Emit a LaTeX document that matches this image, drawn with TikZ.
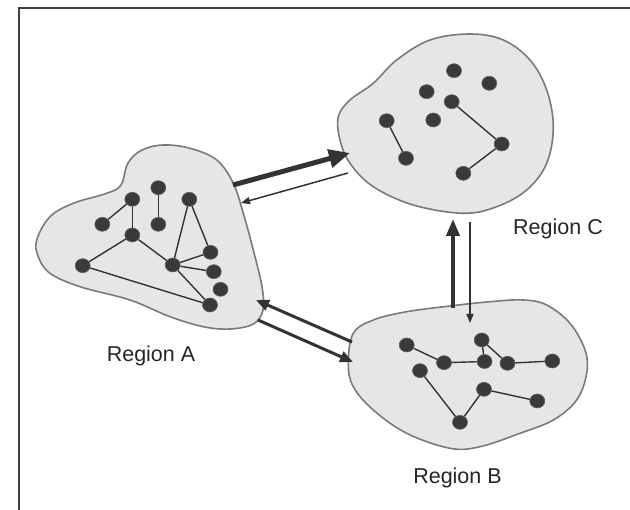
\documentclass[tikz,border=0pt]{standalone}
\usepackage{fontspec}
\setmainfont{Liberation Sans}
\usetikzlibrary{arrows.meta,shapes.geometric}
\definecolor{blobfill}{HTML}{E6E6E6}
\definecolor{blobline}{HTML}{7A7A7A}
\definecolor{dotfill}{HTML}{3A3A3A}
\definecolor{ink}{HTML}{333333}
\tikzset{
  blob/.style={draw=blobline, fill=blobfill, line width=1.6pt},
  dot/.style={ellipse, fill=dotfill, draw=dotfill!80!white, line width=0.6pt, minimum width=15pt, minimum height=14pt, inner sep=0pt},
  link/.style={draw=ink, line width=1.4pt},
  label/.style={font=\fontsize{21.5}{25}\selectfont, text=black!85},
  bigarrow/.style={draw=ink, line width=5pt, -{Triangle[length=21pt,width=18pt]}},
  midarrow/.style={draw=ink, line width=3pt, -{Triangle[length=13pt,width=11pt]}},
  vertarrow/.style={draw=ink, line width=4pt, -{Triangle[length=17pt,width=13pt]}},
  thinarrow/.style={draw=ink, line width=1.5pt, -{Triangle[length=9pt,width=7pt]}},
  frame/.style={draw=black!75, line width=2.2pt}
}
\begin{document}
\begin{tikzpicture}[x=1pt,y=-1pt]
\useasboundingbox (0,0) rectangle (630,510);
\fill[white] (0,0) rectangle (630,510);
\draw[frame] (19,512) -- (19,8) -- (632,8);

% Region A blob
\draw[blob] plot[smooth cycle, tension=0.6] coordinates {
 (36.7,240) (50,216.7) (73.3,203.3) (106.7,193.3) (121,185) (128,163) (142,150)
 (163.3,145) (190,148.3) (216.7,160) (233.3,183.3) (243.3,213.3) (253.3,250)
 (262,286.7) (263,310) (253.3,324) (230,329) (203.3,326.7) (170,316.7)
 (130,300) (80,286.7) (50,273.3) (38.3,256.7)};

% Region C blob
\draw[blob] plot[smooth cycle, tension=0.6] coordinates {
 (338.3,116.7) (350,100) (373.3,83.3) (396.7,60) (430,40) (470,34) (503.3,40)
 (530,60) (546.7,90) (553.3,126.7) (546.7,163.3) (526.7,190) (496.7,206.7)
 (463.3,213.3) (413.3,205) (373.3,186.7) (350,163.3) (340,140)};

% Region B blob
\draw[blob] plot[smooth cycle, tension=0.6] coordinates {
 (353.3,333.3) (373.3,320) (406.7,311.7) (450,306) (490,301.7) (523.3,300)
 (546.7,305) (570,323.3) (585,350) (586.7,373.3) (576.7,400) (553.3,420)
 (520,433.3) (480,446.7) (450,448.3) (406.7,433.3) (373.3,410) (353.3,386.7)
 (348.3,363.3)};

% Region A nodes
\node[dot] (a1) at (158.3,187.7) {};
\node[dot] (a2) at (132.3,199.3) {};
\node[dot] (a3) at (189.3,199.3) {};
\node[dot] (a4) at (102.3,224.3) {};
\node[dot] (a5) at (158.3,224.3) {};
\node[dot] (a6) at (132.3,235) {};
\node[dot] (a7) at (210.5,252.3) {};
\node[dot] (a8) at (82.7,265.7) {};
\node[dot] (a9) at (172.7,265) {};
\node[dot] (a10) at (213.8,271.7) {};
\node[dot] (a11) at (220.5,289.3) {};
\node[dot] (a12) at (210,305) {};
\draw[link] (a2) -- (a4);
\draw[link] (a2) -- (a6);
\draw[link] (a1) -- (a5);
\draw[link] (a6) -- (a8);
\draw[link] (a6) -- (a9);
\draw[link] (a3) -- (a9);
\draw[link] (a3) -- (a7);
\draw[link] (a9) -- (a7);
\draw[link] (a9) -- (a10);
\draw[link] (a9) -- (a12);
\draw[link] (a8) -- (a12);

% Region C nodes
\node[dot] (c1) at (454,70.7) {};
\node[dot] (c2) at (489.3,83.3) {};
\node[dot] (c3) at (426.7,91.7) {};
\node[dot] (c4) at (451.7,101.7) {};
\node[dot] (c5) at (386.7,120.7) {};
\node[dot] (c6) at (433.3,120) {};
\node[dot] (c7) at (501.7,144) {};
\node[dot] (c8) at (406,158.3) {};
\node[dot] (c9) at (463.3,173.3) {};
\draw[link] (c5) -- (c8);
\draw[link] (c4) -- (c7);
\draw[link] (c7) -- (c9);

% Region B nodes
\node[dot] (b1) at (481.7,340) {};
\node[dot] (b2) at (406.7,345) {};
\node[dot] (b3) at (444,362.7) {};
\node[dot] (b4) at (484.5,361.5) {};
\node[dot] (b5) at (507.5,363.3) {};
\node[dot] (b6) at (552.3,361) {};
\node[dot] (b7) at (420,370.7) {};
\node[dot] (b8) at (484,389.3) {};
\node[dot] (b9) at (537.3,401) {};
\node[dot] (b10) at (460,422.3) {};
\draw[link] (b2) -- (b3);
\draw[link] (b3) -- (b4);
\draw[link] (b1) -- (b4);
\draw[link] (b1) -- (b5);
\draw[link] (b5) -- (b6);
\draw[link] (b7) -- (b10);
\draw[link] (b10) -- (b8);
\draw[link] (b8) -- (b9);

% arrow end points
\coordinate (ac1) at (233,185);
\coordinate (ac2) at (350,153);
\coordinate (ca1) at (348,173);
\coordinate (ca2) at (241,203);
\coordinate (ba1) at (352,342);
\coordinate (ba2) at (256,300);
\coordinate (ab1) at (258,320);
\coordinate (ab2) at (353,362);
\coordinate (bc1) at (453,308);
\coordinate (bc2) at (453,219);
\coordinate (cb1) at (470,222);
\coordinate (cb2) at (470,323);

\draw[bigarrow] (ac1) -- (ac2);
\draw[thinarrow] (ca1) -- (ca2);
\draw[midarrow] (ba1) -- (ba2);
\draw[midarrow] (ab1) -- (ab2);
\draw[vertarrow] (bc1) -- (bc2);
\draw[thinarrow] (cb1) -- (cb2);

% labels
\node[label] (la) at (151,356) {Region A};
\node[label] (lc) at (558,229) {Region C};
\node[label] (lb) at (457.5,478) {Region B};
\end{tikzpicture}
\end{document}
